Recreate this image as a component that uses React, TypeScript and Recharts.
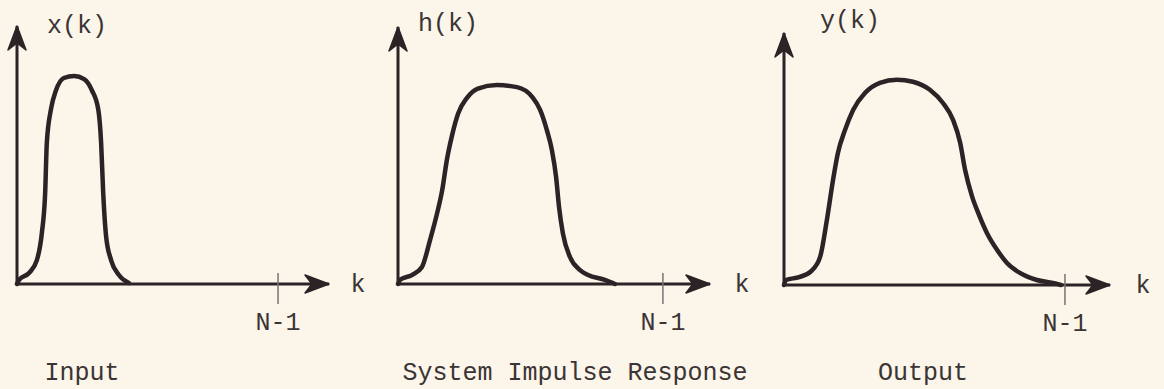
import React from 'react';
import { LineChart, Line, XAxis, YAxis, ReferenceDot } from 'recharts';

const W = 1164;
const H = 389;
const INK = '#2b2325';
const TEXT = '#3a3434';
const PAPER = '#fbf5ea';
const FONT = '"Liberation Mono", "Courier New", monospace';
const FONT_SIZE = 25;

// last sample index shown on every k axis
const N_MINUS_1 = 63;

// x(k): narrow input pulse
const inputK = [0, 0.5, 2.9, 4.8, 6.0, 6.8, 7.2, 8.2, 9.4, 11.3, 13.8, 16.2, 18.1, 19.6, 20.3, 20.8, 21.5, 22.7, 24.6, 27];
const inputAmp = [0, 0.02, 0.053, 0.115, 0.245, 0.44, 0.68, 0.84, 0.93, 0.99, 1.0, 0.985, 0.93, 0.84, 0.68, 0.44, 0.23, 0.115, 0.043, 0.005];

// h(k): system impulse response
const impulseK = [0, 0.5, 3.3, 5.7, 7.6, 9.3, 10.5, 11.65, 12.8, 14.3, 16.4, 19.0, 23.5, 28.3, 31.9, 33.8, 35.4, 36.6, 37.6, 38.3, 39.2, 40.9, 43.3, 45.2, 49.2, 51.6];
const impulseAmp = [0, 0.02, 0.043, 0.082, 0.21, 0.34, 0.45, 0.6, 0.71, 0.82, 0.895, 0.94, 0.957, 0.947, 0.9, 0.837, 0.74, 0.644, 0.514, 0.37, 0.245, 0.13, 0.067, 0.043, 0.02, 0];

// y(k): output
const outputK = [0, 0.45, 3.4, 6.1, 8.1, 9.6, 11.0, 12.1, 13.7, 15.5, 18.2, 21.5, 25.3, 28.9, 32.7, 35.6, 37.9, 39.5, 40.6, 42.2, 43.7, 45.5, 47.8, 50.0, 52.9, 56.7, 60.3, 62.1];
const outputAmp = [0, 0.024, 0.038, 0.067, 0.135, 0.31, 0.505, 0.635, 0.745, 0.84, 0.923, 0.971, 0.986, 0.976, 0.9375, 0.875, 0.793, 0.683, 0.553, 0.423, 0.338, 0.25, 0.168, 0.106, 0.058, 0.024, 0.01, 0];

const yLabels = ['x(k)', 'h(k)', 'y(k)'];
const titles = ['Input', 'System Impulse Response', 'Output'];

const toRows = (ks: number[], vs: number[]) => ks.map((k, i) => ({ k, v: vs[i] }));

const panels = [
  {
    rows: toRows(inputK, inputAmp),
    box: { left: 17, right: 329, top: 26, bottom: 284 },
    xMax: 75.3, yMax: 1.24,
    yLabelDx: 30, yLabelDy: 7, kDx: 29, titleX: 82,
  },
  {
    rows: toRows(impulseK, impulseAmp),
    box: { left: 398, right: 710, top: 27, bottom: 284 },
    xMax: 74.2, yMax: 1.236,
    yLabelDx: 20, yLabelDy: 4, kDx: 32, titleX: 575,
  },
  {
    rows: toRows(outputK, outputAmp),
    box: { left: 784, right: 1110, top: 33, bottom: 285 },
    xMax: 73.1, yMax: 1.21,
    yLabelDx: 36, yLabelDy: -5, kDx: 33, titleX: 923,
  },
];

const textStyle = { fontFamily: FONT, fontSize: FONT_SIZE, fill: TEXT };

// tick mark crossing the axis plus the "N-1" label under it
function NTick(props: any) {
  const { x, y } = props;
  return (
    <g>
      <line x1={x} x2={x} y1={y - 11} y2={y + 20} stroke="#7a7272" strokeWidth={1.5} />
      <text x={x} y={y + 46} textAnchor="middle" {...textStyle}>N-1</text>
    </g>
  );
}

function KArrow({ cx, cy, dx }: any) {
  return (
    <g>
      <path d={`M${cx} ${cy} L${cx - 24} ${cy - 9} L${cx - 17} ${cy} L${cx - 24} ${cy + 9} Z`} fill={INK} stroke={INK} strokeWidth={1.5} strokeLinejoin="round" />
      <text x={cx + dx} y={cy + 8} textAnchor="middle" {...textStyle}>k</text>
    </g>
  );
}

function AmpArrow({ cx, cy, label, dx, dy }: any) {
  return (
    <g>
      <path d={`M${cx} ${cy} L${cx - 9} ${cy + 24} L${cx} ${cy + 17} L${cx + 9} ${cy + 24} Z`} fill={INK} stroke={INK} strokeWidth={1.5} strokeLinejoin="round" />
      <text x={cx + dx} y={cy + dy} {...textStyle}>{label}</text>
    </g>
  );
}

function Panel({ p, label }: { p: (typeof panels)[number]; label: string }) {
  // axes get a 1px box so they still render; margins absorb it
  return (
    <div style={{ position: 'absolute', left: 0, top: 0 }}>
      <LineChart
        width={W}
        height={H}
        data={p.rows}
        margin={{ left: p.box.left - 1, right: W - p.box.right, top: p.box.top, bottom: H - p.box.bottom - 1 }}
      >
        <XAxis
          type="number"
          dataKey="k"
          domain={[0, p.xMax]}
          height={1}
          ticks={[N_MINUS_1]}
          interval={0}
          tickSize={0}
          tickMargin={0}
          tickLine={false}
          axisLine={{ stroke: INK, strokeWidth: 3 }}
          tick={(t: any) => <NTick {...t} />}
        />
        <YAxis
          type="number"
          domain={[0, p.yMax]}
          width={1}
          tick={false}
          tickLine={false}
          axisLine={{ stroke: INK, strokeWidth: 3 }}
        />
        <Line
          type="monotone"
          dataKey="v"
          stroke={INK}
          strokeWidth={4.5}
          strokeLinecap="round"
          strokeLinejoin="round"
          dot={false}
          activeDot={false}
          isAnimationActive={false}
        />
        <ReferenceDot
          x={p.xMax}
          y={0}
          r={0}
          ifOverflow="visible"
          shape={(s: any) => <KArrow cx={s.cx} cy={s.cy} dx={p.kDx} />}
        />
        <ReferenceDot
          x={0}
          y={p.yMax}
          r={0}
          ifOverflow="visible"
          shape={(s: any) => <AmpArrow cx={s.cx} cy={s.cy} label={label} dx={p.yLabelDx} dy={p.yLabelDy} />}
        />
      </LineChart>
    </div>
  );
}

export default function App() {
  return (
    <div style={{ position: 'fixed', left: 0, top: 0, width: W, height: H, background: PAPER, overflow: 'hidden' }}>
      {panels.map((p, i) => (
        <Panel key={i} p={p} label={yLabels[i]} />
      ))}
      <svg width={W} height={H} style={{ position: 'absolute', left: 0, top: 0, pointerEvents: 'none' }}>
        {panels.map((p, i) => (
          <text key={i} x={p.titleX} y={380} textAnchor="middle" {...textStyle}>
            {titles[i]}
          </text>
        ))}
      </svg>
    </div>
  );
}
